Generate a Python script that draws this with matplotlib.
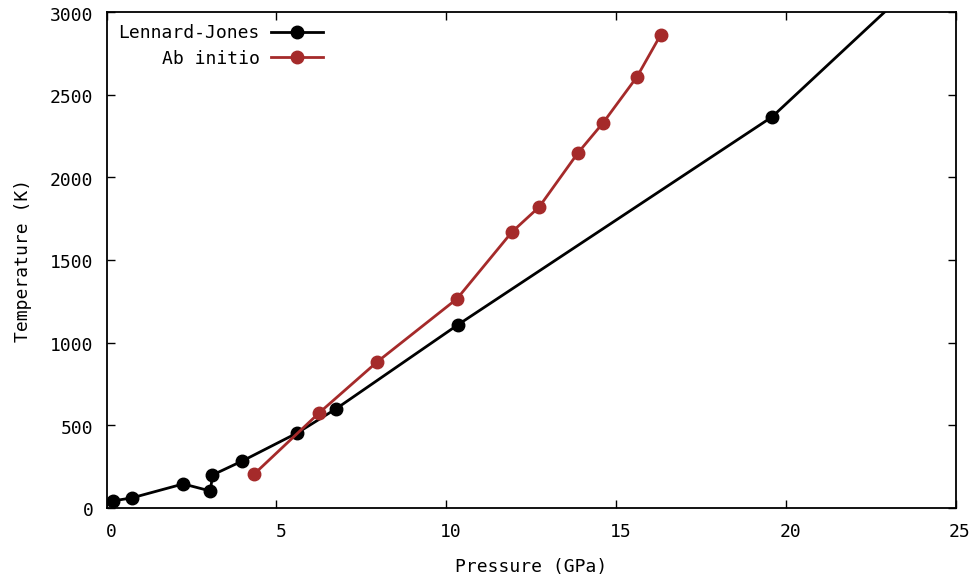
import matplotlib
matplotlib.use("Agg")
import matplotlib.pyplot as plt
from matplotlib.transforms import ScaledTranslation

lj_p = [0.18, 0.74, 2.26, 3.06, 3.12, 4.0, 5.62, 6.76, 10.35, 19.6, 25.2]
lj_t = [41, 59, 144, 101, 198, 283, 453, 599, 1108, 2367, 3440]
ai_p = [4.35, 6.26, 7.97, 10.32, 11.94, 12.74, 13.88, 14.62, 15.62, 16.32]
ai_t = [204, 574, 883, 1265, 1670, 1821, 2148, 2330, 2609, 2864]

plt.rcParams['font.family'] = ['DejaVu Sans Mono']
plt.rcParams['font.size'] = 13

fig = plt.figure(figsize=(9.76, 5.81), dpi=100)
ax = fig.add_axes([106.5/976, 1-507.7/581, 849/976, 495.4/581])

ax.plot(lj_p, lj_t, color='black', lw=2, marker='o', ms=9, label='Lennard-Jones')
ax.plot(ai_p, ai_t, color='#a52a2a', lw=2, marker='o', ms=9, label='Ab initio')

ax.set_xlim(0, 25)
ax.set_ylim(0, 3000)
ax.set_xticks([0, 5, 10, 15, 20, 25])
ax.set_yticks([0, 500, 1000, 1500, 2000, 2500, 3000])
ax.tick_params(direction='in', top=True, right=True, length=6, width=1)
ax.tick_params(axis='x', pad=11)
ax.tick_params(axis='y', pad=9.5)
for s in ax.spines.values():
    s.set_linewidth(1.3)

xoff = ScaledTranslation(4.5/100, 0, fig.dpi_scale_trans)
for lab in ax.get_xticklabels():
    lab.set_transform(lab.get_transform() + xoff)
yoff = ScaledTranslation(0, -1.5/100, fig.dpi_scale_trans)
for lab in ax.get_yticklabels():
    lab.set_transform(lab.get_transform() + yoff)

ax.set_xlabel('Pressure (GPa)', labelpad=12.5)
ax.set_ylabel('Temperature (K)', labelpad=13)

ax.legend(loc='upper left', frameon=False, markerfirst=False, handlelength=2.85,
          borderaxespad=0.25, handletextpad=0.65, labelspacing=0.42)

fig.savefig('out.png', dpi=100)
